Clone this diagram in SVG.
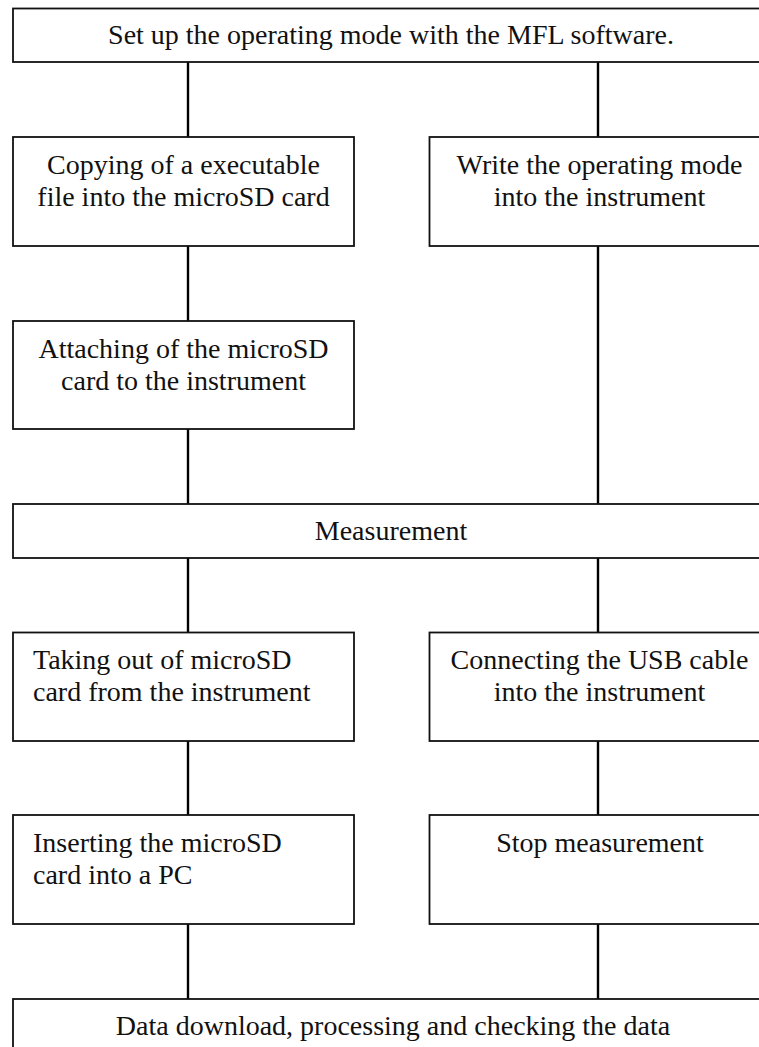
<svg xmlns="http://www.w3.org/2000/svg" width="759" height="1047" viewBox="0 0 759 1047">
<style>
.box{fill:#fff;stroke:#111;stroke-width:1.8}
.c{stroke:#000;stroke-width:2.4;fill:none}
text{font-family:"Liberation Serif","Times New Roman",serif;font-size:28px;fill:#111}
.m{text-anchor:middle}
</style>
<rect width="759" height="1047" fill="#fff"/>
<g id="connectors">
<line class="c" x1="188" y1="62" x2="188" y2="137"/>
<line class="c" x1="188" y1="246" x2="188" y2="321"/>
<line class="c" x1="188" y1="429" x2="188" y2="504"/>
<line class="c" x1="188" y1="558" x2="188" y2="632"/>
<line class="c" x1="188" y1="741" x2="188" y2="815"/>
<line class="c" x1="188" y1="924" x2="188" y2="999"/>
<line class="c" x1="598" y1="62" x2="598" y2="137"/>
<line class="c" x1="598" y1="246" x2="598" y2="504"/>
<line class="c" x1="598" y1="558" x2="598" y2="632"/>
<line class="c" x1="598" y1="741" x2="598" y2="815"/>
<line class="c" x1="598" y1="924" x2="598" y2="999"/>
</g>
<g id="setup">
<rect class="box" x="13" y="8.5" width="757" height="53.5"/>
<text class="m" x="391" y="44">Set up the operating mode with the MFL software.</text>
</g>
<g id="copy">
<rect class="box" x="13" y="137" width="341" height="109"/>
<text class="m" x="183.5" y="174">Copying of a executable</text>
<text class="m" x="183.5" y="206">file into the microSD card</text>
</g>
<g id="write">
<rect class="box" x="429.5" y="137" width="341" height="109"/>
<text class="m" x="599.5" y="174">Write the operating mode</text>
<text class="m" x="599.5" y="206">into the instrument</text>
</g>
<g id="attach">
<rect class="box" x="13" y="321" width="341" height="108"/>
<text class="m" x="183.5" y="358">Attaching of the microSD</text>
<text class="m" x="183.5" y="390">card to the instrument</text>
</g>
<g id="measurement">
<rect class="box" x="13" y="504" width="757" height="54"/>
<text class="m" x="391" y="540">Measurement</text>
</g>
<g id="takeout">
<rect class="box" x="13" y="632.5" width="341" height="108.5"/>
<text x="33" y="669">Taking out of microSD</text>
<text x="33" y="701">card from the instrument</text>
</g>
<g id="usb">
<rect class="box" x="429.5" y="632.5" width="341" height="108.5"/>
<text class="m" x="599.5" y="669">Connecting the USB cable</text>
<text class="m" x="599.5" y="701">into the instrument</text>
</g>
<g id="insert">
<rect class="box" x="13" y="815" width="341" height="109"/>
<text x="33" y="852">Inserting the microSD</text>
<text x="33" y="884">card into a PC</text>
</g>
<g id="stop">
<rect class="box" x="429.5" y="815" width="341" height="109"/>
<text class="m" x="600" y="852">Stop measurement</text>
</g>
<g id="data">
<rect class="box" x="13" y="999" width="757" height="60"/>
<text class="m" x="393" y="1035">Data download, processing and checking the data</text>
</g>
</svg>
